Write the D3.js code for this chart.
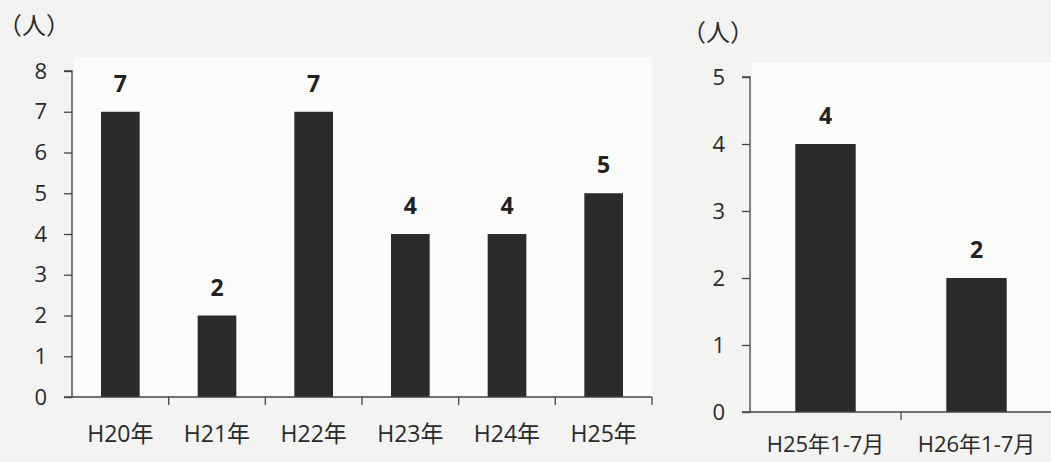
<!DOCTYPE html>
<html>
<head>
<meta charset="utf-8">
<script src="https://cdn.jsdelivr.net/npm/d3@7"></script>
<style>
  html, body { margin: 0; padding: 0; background: #f3f3f1; }
  svg { display: block; }
</style>
</head>
<body>
<svg id="chart" width="1051" height="462"></svg>
<script>
// Yearly counts (people)
const yearCategories = ["H20年", "H21年", "H22年", "H23年", "H24年", "H25年"];
const yearValues = [7, 2, 7, 4, 4, 5];
const yearTicks = [0, 1, 2, 3, 4, 5, 6, 7, 8];

// January–July comparison
const periodCategories = ["H25年1-7月", "H26年1-7月"];
const periodValues = [4, 2];
const periodTicks = [0, 1, 2, 3, 4, 5];

const unitLabel = "（人）";

const svg = d3.select("#chart");
const font = "\"Open Sans\", \"Noto Sans CJK JP\", sans-serif";

function drawPanel(cfg) {
  const g = svg.append("g");

  // light plot area
  g.append("rect")
    .attr("x", cfg.x0 + 2).attr("y", cfg.yTop - 14)
    .attr("width", cfg.x1 - cfg.x0 - 2).attr("height", cfg.yBottom - cfg.yTop + 14)
    .attr("fill", "#fbfbfa");

  const x = d3.scaleBand()
    .domain(cfg.categories)
    .range([cfg.x0, cfg.x1])
    .paddingInner(0.6)
    .paddingOuter(0.3);

  const y = d3.scaleLinear()
    .domain([0, d3.max(cfg.ticks)])
    .range([cfg.yBottom, cfg.yTop]);

  // bars
  g.selectAll("rect.bar")
    .data(cfg.values)
    .join("rect")
    .attr("class", "bar")
    .attr("x", (d, i) => x(cfg.categories[i]))
    .attr("y", d => y(d))
    .attr("width", x.bandwidth())
    .attr("height", d => y(0) - y(d))
    .attr("fill", "#2b2b2b");

  // value labels
  g.selectAll("text.val")
    .data(cfg.values)
    .join("text")
    .attr("class", "val")
    .attr("x", (d, i) => x(cfg.categories[i]) + x.bandwidth() / 2)
    .attr("y", d => y(d) - 20)
    .attr("text-anchor", "middle")
    .attr("font-family", font)
    .attr("font-weight", "700")
    .attr("font-size", 23)
    .attr("fill", "#222")
    .text(d => d);

  // y axis
  const yAxis = g.append("g")
    .attr("transform", `translate(${cfg.x0},0)`)
    .call(d3.axisLeft(y).tickValues(cfg.ticks).tickFormat(d3.format("d")).tickSize(8).tickPadding(17));
  yAxis.attr("font-family", font).attr("font-size", 22);
  yAxis.selectAll("text").attr("fill", "#2a2a2a");
  yAxis.selectAll("line, path").attr("stroke", "#444").attr("stroke-width", 1.3);
  yAxis.select("path").attr("d", `M-8,${y(d3.max(cfg.ticks))}H0V${y(0)}`);

  // x axis with ticks at band boundaries
  const xAxis = g.append("g")
    .attr("transform", `translate(0,${cfg.yBottom})`);
  xAxis.append("line")
    .attr("x1", cfg.x0 - 8).attr("x2", cfg.x1)
    .attr("stroke", "#444").attr("stroke-width", 1.3);
  const step = x.step();
  const bounds = d3.range(cfg.categories.length + (cfg.closeEnd ? 1 : 0))
    .map(i => x(cfg.categories[0]) - x.paddingOuter() * step + i * step)
    .slice(1);
  xAxis.selectAll("line.tk")
    .data(bounds)
    .join("line")
    .attr("class", "tk")
    .attr("x1", d => d).attr("x2", d => d)
    .attr("y1", 0).attr("y2", 8)
    .attr("stroke", "#444").attr("stroke-width", 1.3);
  xAxis.selectAll("text")
    .data(cfg.categories)
    .join("text")
    .attr("x", d => x(d) + x.bandwidth() / 2)
    .attr("y", cfg.labelDy)
    .attr("text-anchor", "middle")
    .attr("font-family", font)
    .attr("font-size", cfg.catSize)
    .attr("fill", "#2a2a2a")
    .text(d => d);

  // unit label
  g.append("text")
    .attr("x", cfg.unitX).attr("y", cfg.unitY)
    .attr("font-family", "\"Noto Sans CJK JP\", sans-serif")
    .attr("font-size", 24)
    .style("font-feature-settings", "\"halt\"")
    .attr("fill", "#2a2a2a")
    .text(unitLabel);
}

drawPanel({
  categories: yearCategories, values: yearValues, ticks: yearTicks,
  x0: 72, x1: 652, yTop: 71, yBottom: 397,
  labelDy: 45, catSize: 23, closeEnd: true, unitX: 10, unitY: 34
});

drawPanel({
  categories: periodCategories, values: periodValues, ticks: periodTicks,
  x0: 750, x1: 1052, yTop: 77, yBottom: 412,
  labelDy: 40, catSize: 22, closeEnd: false, unitX: 694, unitY: 41
});
</script>
</body>
</html>
